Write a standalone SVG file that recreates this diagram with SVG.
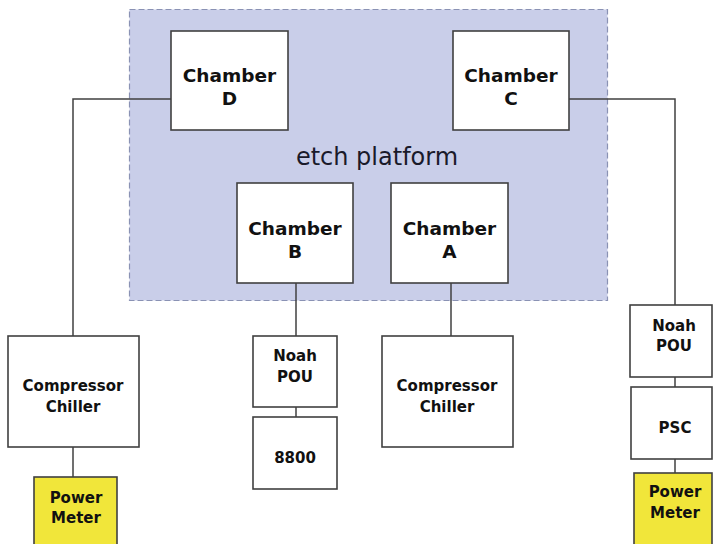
<svg xmlns="http://www.w3.org/2000/svg" width="713" height="544" viewBox="0 0 713 544">
<style>
.box{fill:#fff;stroke:#404040;stroke-width:1.6}
.pm{fill:#f1e63a;stroke:#404040;stroke-width:1.6}
.lbl{font-family:"DejaVu Sans",Verdana,sans-serif;font-weight:bold;fill:#111;text-anchor:middle}
.big{font-size:18.5px}
.sm{font-size:15px}
.conn line,.conn polyline{fill:none;stroke:#404040;stroke-width:1.5}
</style>
<rect width="713" height="544" fill="#fff"/>
<g id="platform">
<rect x="129.5" y="9.5" width="478" height="291" fill="#c9cee9" stroke="#8a92b4" stroke-width="1.2" stroke-dasharray="6,3"/>
<text x="377" y="165" font-family="'DejaVu Sans',Verdana,sans-serif" font-size="24" fill="#1a1a2a" text-anchor="middle">etch platform</text>
</g>
<g class="conn" id="connectors">
<polyline points="171,99 73,99 73,336"/>
<line x1="73" y1="447" x2="73" y2="477"/>
<polyline points="569,99 675,99 675,305"/>
<line x1="675" y1="377" x2="675" y2="387"/>
<line x1="675" y1="459" x2="675" y2="473"/>
<line x1="296" y1="283" x2="296" y2="336"/>
<line x1="296" y1="407" x2="296" y2="417"/>
<line x1="451" y1="283" x2="451" y2="336"/>
</g>
<g id="chamberD"><rect class="box" x="171" y="31" width="117" height="99"/><text class="lbl big" x="229.5" y="82">Chamber</text><text class="lbl big" x="229.5" y="105">D</text></g>
<g id="chamberC"><rect class="box" x="453" y="31" width="116" height="99"/><text class="lbl big" x="511" y="82">Chamber</text><text class="lbl big" x="511" y="105">C</text></g>
<g id="chamberB"><rect class="box" x="237" y="183" width="116" height="100"/><text class="lbl big" x="295" y="235">Chamber</text><text class="lbl big" x="295" y="258">B</text></g>
<g id="chamberA"><rect class="box" x="391" y="183" width="117" height="100"/><text class="lbl big" x="449.5" y="235">Chamber</text><text class="lbl big" x="449.5" y="258">A</text></g>
<g id="chillerLeft"><rect class="box" x="8" y="336" width="131" height="111"/><text class="lbl sm" x="73" y="391">Compressor</text><text class="lbl sm" x="73" y="412">Chiller</text></g>
<g id="powerMeterLeft"><rect class="pm" x="34" y="477" width="83" height="75"/><text class="lbl sm" x="76" y="503">Power</text><text class="lbl sm" x="76" y="523">Meter</text></g>
<g id="noahMid"><rect class="box" x="253" y="336" width="84" height="71"/><text class="lbl sm" x="295" y="361">Noah</text><text class="lbl sm" x="295" y="382">POU</text></g>
<g id="n8800"><rect class="box" x="253" y="417" width="84" height="72"/><text class="lbl sm" x="295" y="463">8800</text></g>
<g id="chillerMid"><rect class="box" x="382" y="336" width="131" height="111"/><text class="lbl sm" x="447" y="391">Compressor</text><text class="lbl sm" x="447" y="412">Chiller</text></g>
<g id="noahRight"><rect class="box" x="630" y="305" width="82" height="72"/><text class="lbl sm" x="674" y="331">Noah</text><text class="lbl sm" x="674" y="351">POU</text></g>
<g id="psc"><rect class="box" x="631" y="387" width="81" height="72"/><text class="lbl sm" x="675" y="433">PSC</text></g>
<g id="powerMeterRight"><rect class="pm" x="634" y="473" width="78" height="79"/><text class="lbl sm" x="675" y="497">Power</text><text class="lbl sm" x="675" y="518">Meter</text></g>
</svg>
